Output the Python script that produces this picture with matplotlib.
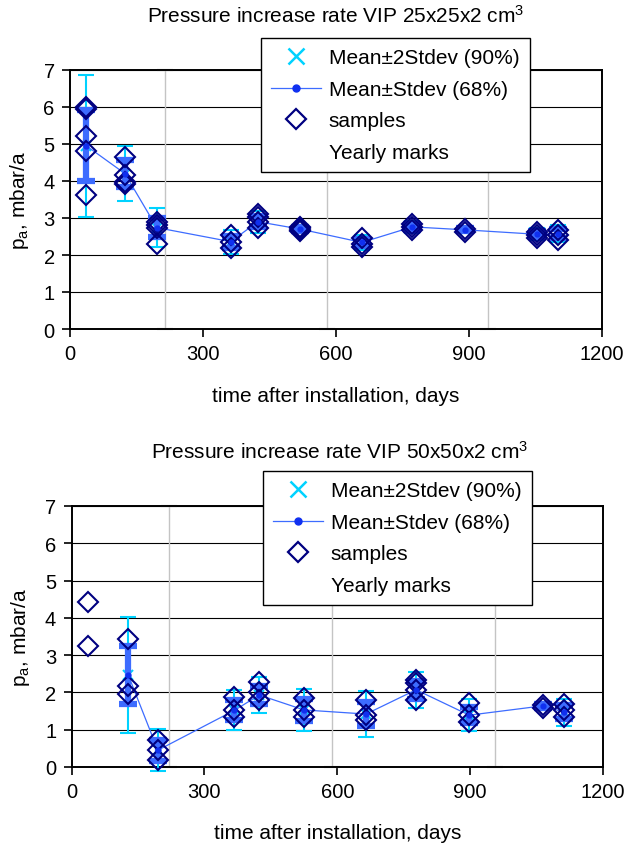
import numpy as np
import matplotlib
matplotlib.use("Agg")
import matplotlib.pyplot as plt
from matplotlib.lines import Line2D

plt.rcParams['font.family'] = ['Liberation Sans', 'DejaVu Sans']
plt.rcParams['mathtext.fontset'] = 'custom'
plt.rcParams['mathtext.rm'] = 'Liberation Sans'
plt.rcParams['mathtext.it'] = 'Liberation Sans:italic'
plt.rcParams['mathtext.bf'] = 'Liberation Sans:bold'

# ---- 25x25x2 cm3 panels ----
days_small = [37, 124, 196, 363, 424, 520, 659, 773, 892, 1054, 1102]
mean_small = [4.95, 4.20, 2.74, 2.36, 2.90, 2.70, 2.34, 2.76, 2.68, 2.56, 2.58]
std_small = [0.96, 0.37, 0.26, 0.16, 0.15, 0.05, 0.10, 0.08, 0.04, 0.08, 0.11]
samples_small = [
    [6.00, 5.95, 5.22, 4.80, 3.62],
    [4.64, 4.16, 3.98, 3.91],
    [2.90, 2.81, 2.72, 2.31],
    [2.54, 2.36, 2.18],
    [3.12, 3.03, 2.90, 2.72],
    [2.76, 2.72, 2.68, 2.64],
    [2.45, 2.31, 2.22],
    [2.85, 2.76, 2.67],
    [2.70, 2.63],
    [2.63, 2.54, 2.45],
    [2.67, 2.54, 2.40],
]
yearly_small = [214, 580, 944]

# ---- 50x50x2 cm3 panels ----
days_large = [38, 128, 195, 368, 424, 525, 665, 778, 898, 1064, 1113]
mean_large = [np.nan, 2.47, 0.45, 1.52, 1.93, 1.53, 1.42, 2.07, 1.39, 1.64, 1.47]
std_large = [np.nan, 0.78, 0.28, 0.27, 0.245, 0.285, 0.31, 0.24, 0.215, 0.05, 0.18]
samples_large = [
    [4.43, 3.24],
    [3.42, 2.17, 1.97],
    [0.73, 0.45, 0.18],
    [1.88, 1.52, 1.34],
    [2.28, 2.02, 1.79],
    [1.85, 1.52, 1.34],
    [1.79, 1.39, 1.25],
    [2.33, 2.24, 2.06, 1.79],
    [1.72, 1.39, 1.21],
    [1.66, 1.59],
    [1.70, 1.52, 1.34],
]
yearly_large = [220, 588, 957]

titles = ["Pressure increase rate VIP 25x25x2 cm$^3$",
          "Pressure increase rate VIP 50x50x2 cm$^3$"]
xticks = [0, 300, 600, 900, 1200]
yticks = [0, 1, 2, 3, 4, 5, 6, 7]
legend_labels = ["Mean\u00b12Stdev (90%)", "Mean\u00b1Stdev (68%)", "samples", "Yearly marks"]

CYAN = "#00D2FF"
BLUE = "#3D6CFF"
DOT = "#1030F0"
NAVY = "#000080"
GREY = "#C4C4C4"
FS = 15
TICK_FS = 14.5

W, H = 626, 845
fig = plt.figure(figsize=(W / 100, H / 100), dpi=100)

panels = [
    dict(rect=[70 / W, 1 - 330 / H, 531.5 / W, 259 / H], days=days_small, mean=mean_small,
         std=std_small, samples=samples_small, yearly=yearly_small, title=titles[0],
         title_xy=(336 / W, 1 - 16 / H), leg=(261 / W, 1 - 39 / H)),
    dict(rect=[71.5 / W, 1 - 768 / H, 531.5 / W, 261 / H], days=days_large, mean=mean_large,
         std=std_large, samples=samples_large, yearly=yearly_large, title=titles[1],
         title_xy=(340 / W, 1 - 452 / H), leg=(263 / W, 1 - 472 / H)),
]

for p in panels:
    ax = fig.add_axes(p['rect'])
    days = np.array(p['days'], dtype=float)
    mean = np.array(p['mean'], dtype=float)
    std = np.array(p['std'], dtype=float)

    # yearly marks: vertical grey bars from 0 up to the top of the scale
    ax.errorbar(p['yearly'], np.zeros(len(p['yearly'])),
                yerr=[np.zeros(len(p['yearly'])), np.full(len(p['yearly']), 7.0)],
                fmt='none', ecolor=GREY, elinewidth=1.0, capsize=6, capthick=1.6,
                zorder=1.5, clip_on=False)

    # mean +/- 2 stdev
    ax.errorbar(days, mean, yerr=2 * std, fmt='x', color=CYAN, ms=7, mew=1.5,
                ecolor=CYAN, elinewidth=1.5, capsize=6, capthick=1.5,
                zorder=3, clip_on=False)
    # mean +/- stdev
    ax.errorbar(days, mean, yerr=std, fmt='none', ecolor=BLUE, elinewidth=4.5,
                capsize=6.5, capthick=4.5, zorder=3.2, clip_on=False)
    ax.plot(days, mean, '-', color=BLUE, lw=0.9, zorder=3.3)
    ax.plot(days, mean, 'o', color=DOT, ms=3.5, zorder=4.5)

    # individual samples
    for d, vals in zip(p['days'], p['samples']):
        ax.plot(np.full(len(vals), d), vals, 'D', ms=10.5, mfc='none', mec=NAVY,
                mew=1.5, zorder=4, clip_on=False)

    ax.set_xlim(0, 1200)
    ax.set_ylim(0, 7)
    ax.set_xticks(xticks)
    ax.set_yticks(yticks)
    ax.yaxis.grid(True, color='black', lw=0.8, zorder=1)
    ax.set_axisbelow(True)
    for s in ax.spines.values():
        s.set_linewidth(1.4)
        s.set_color('black')
    ax.tick_params(direction='out', length=6, width=1.2, labelsize=TICK_FS, pad=5,
                   colors='black')
    ax.set_xlabel("time after installation, days", fontsize=FS, labelpad=16)
    ax.set_ylabel("p$_\\mathrm{a}$, mbar/a", fontsize=FS, labelpad=9)
    fig.text(p['title_xy'][0], p['title_xy'][1], p['title'], fontsize=FS,
             ha='center', va='center')

    handles = [
        Line2D([], [], ls='none', marker='x', color=CYAN, ms=11, mew=1.8),
        Line2D([], [], ls='-', lw=0.9, color=BLUE, marker='o', mfc=DOT, mec=DOT, ms=5),
        Line2D([], [], ls='none', marker='D', mfc='none', mec=NAVY, ms=10, mew=1.6),
        Line2D([], [], ls='none', color='none'),
    ]
    leg = ax.legend(handles, legend_labels, loc='upper left', bbox_to_anchor=p['leg'],
                    bbox_transform=fig.transFigure, fontsize=FS, frameon=True,
                    fancybox=False, edgecolor='black', framealpha=1,
                    handlelength=2.4, handletextpad=0.35, labelspacing=0.6,
                    borderpad=0.5, borderaxespad=0)
    leg.get_frame().set_linewidth(1.0)
    leg.set_zorder(10)

fig.savefig("out.png", dpi=100)
